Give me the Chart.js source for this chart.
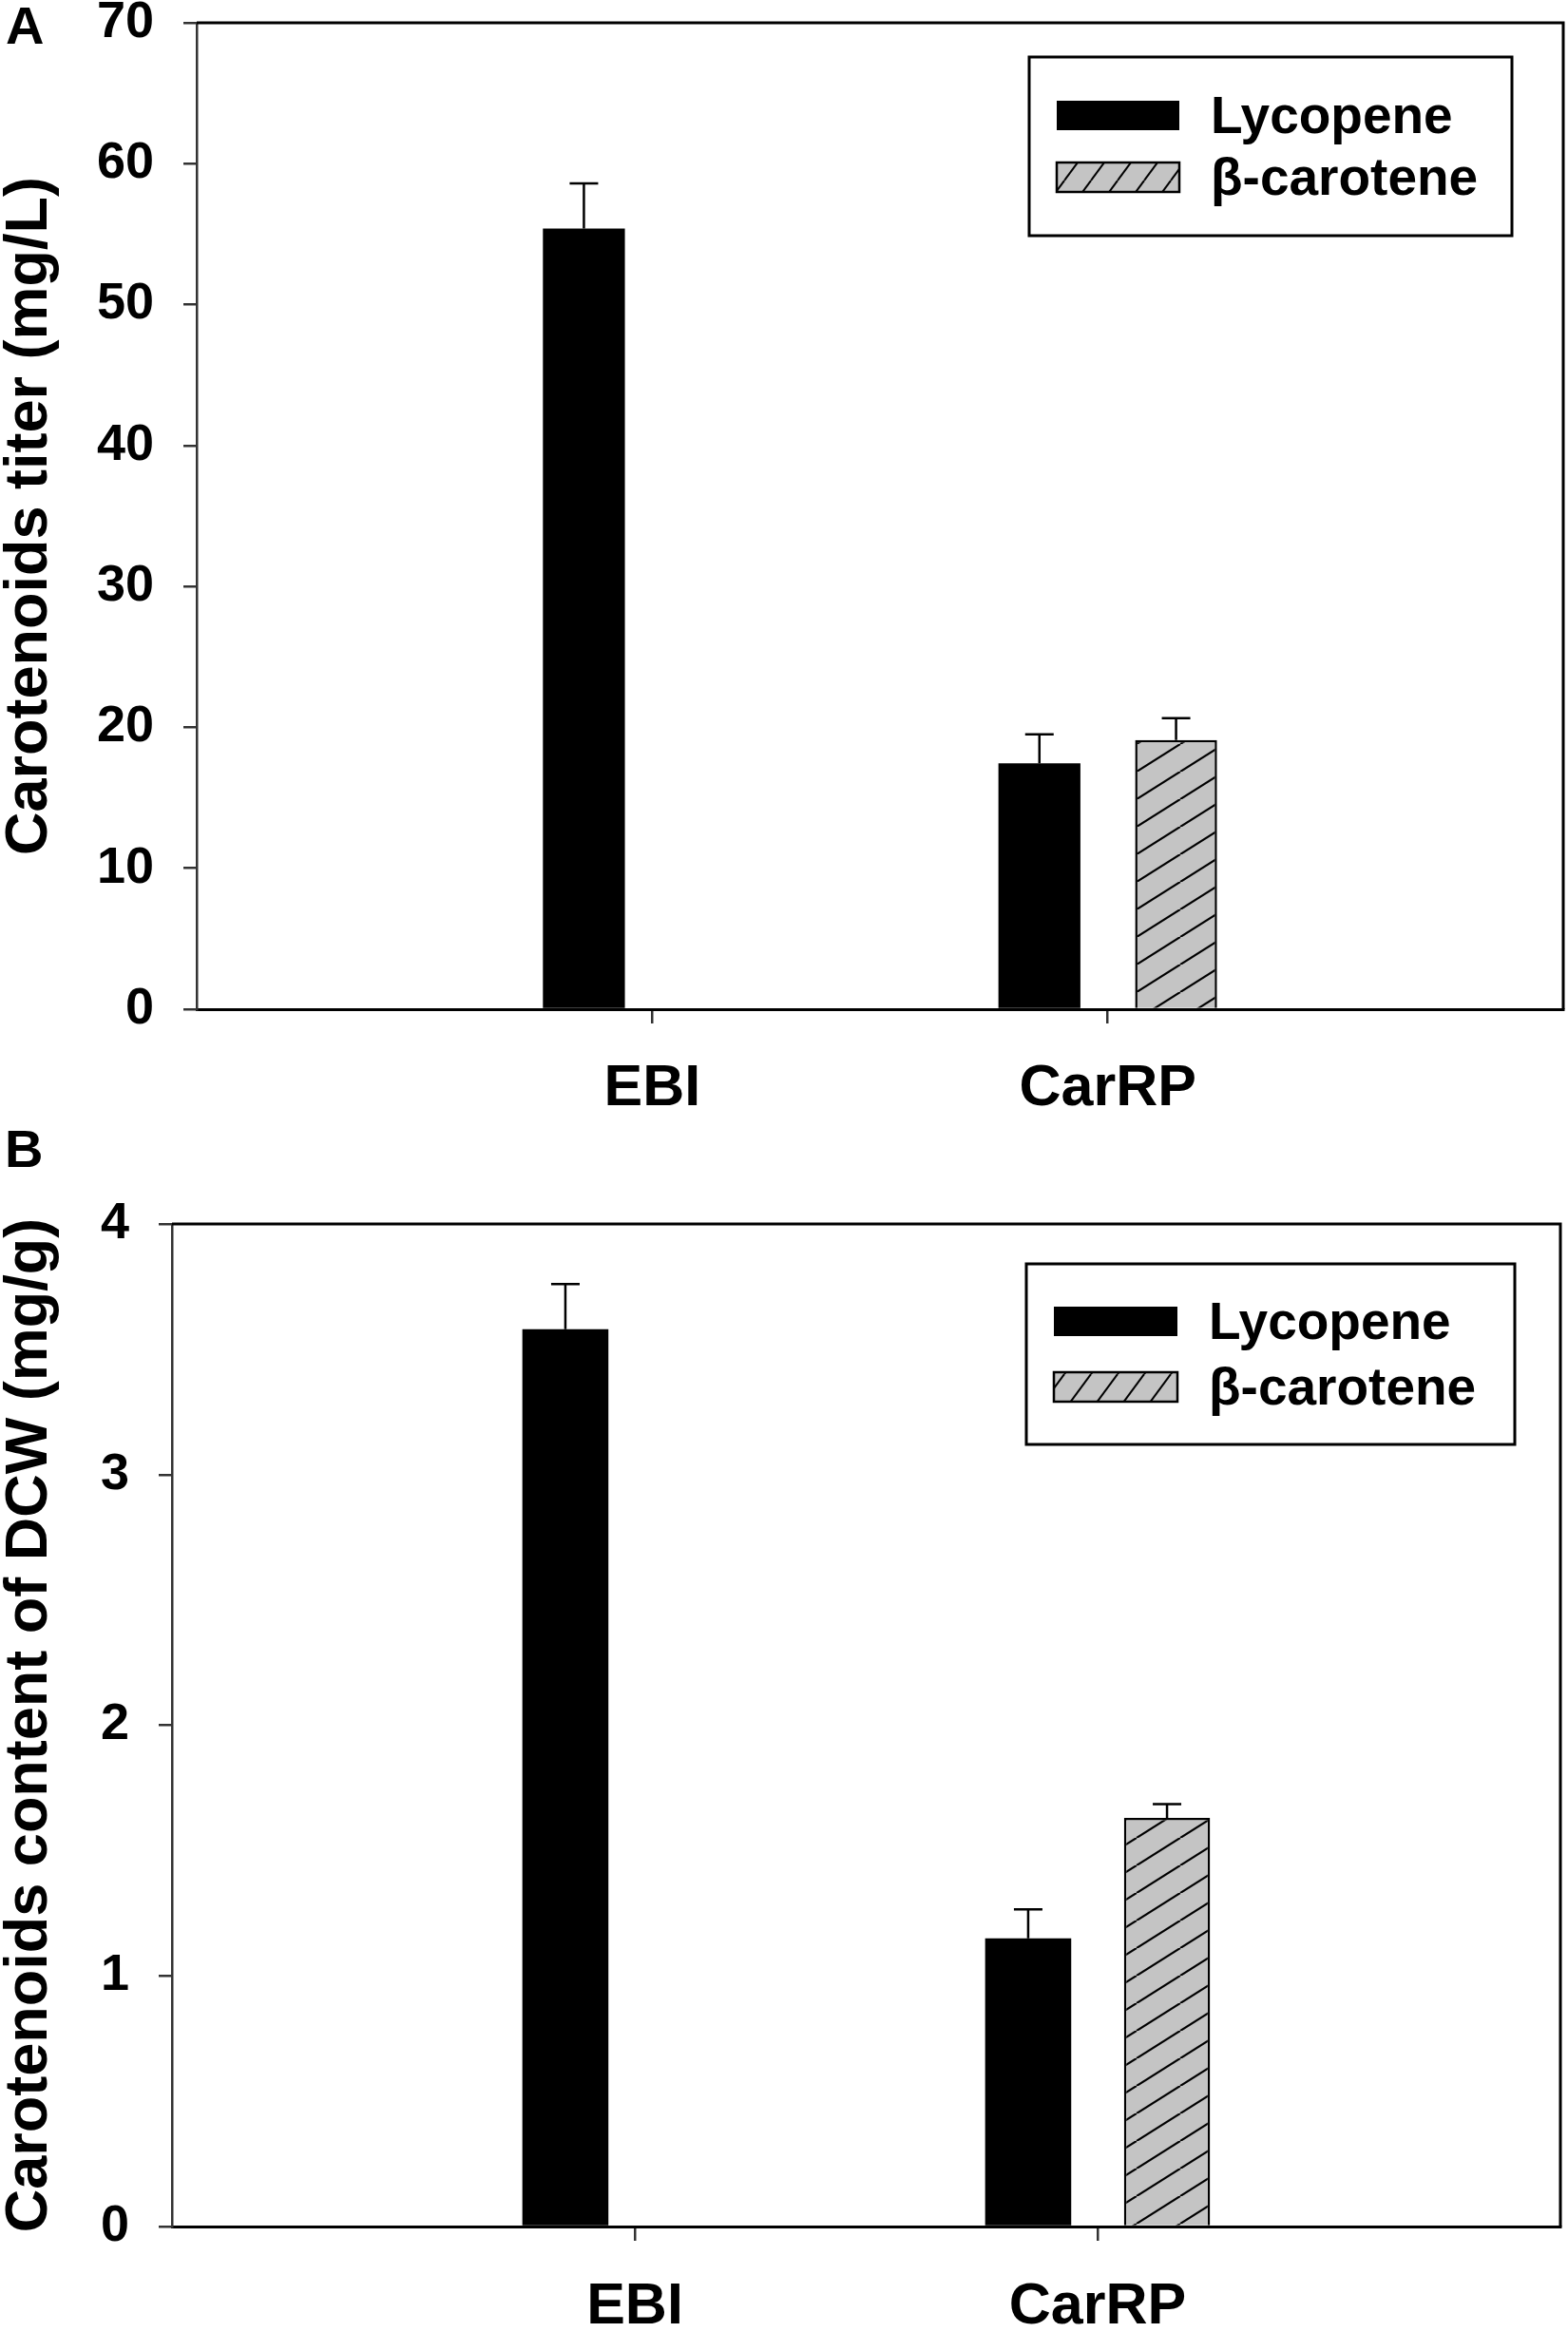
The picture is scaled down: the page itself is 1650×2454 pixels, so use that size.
<!DOCTYPE html>
<html>
<head>
<meta charset="utf-8">
<script src="https://cdn.jsdelivr.net/npm/chart.js@4.4.1/dist/chart.umd.min.js"></script>
<style>
  html, body { margin: 0; padding: 0; background: #fff; }
  body { width: 1650px; height: 2454px; position: relative; overflow: hidden; }
  canvas { position: absolute; left: 0; }
  #chartA { top: 0; }
  #chartB { top: 1180px; }
</style>
</head>
<body>
<canvas id="chartA" width="1650" height="1180"></canvas>
<canvas id="chartB" width="1650" height="1274"></canvas>

<script>
// DATA
const strains = ["", "EBI", "CarRP", ""];

const titerLycopene = [null, 55.4, 17.45, null];
const titerLycopeneSD = [null, 3.2, 2.05, null];
const titerCarotene = [null, null, 19.1, null];
const titerCaroteneSD = [null, null, 1.55, null];
const titerTicks = [0, 10, 20, 30, 40, 50, 60, 70];

const contentLycopene = [null, 3.58, 1.15, null];
const contentLycopeneSD = [null, 0.18, 0.115, null];
const contentCarotene = [null, null, 1.63, null];
const contentCaroteneSD = [null, null, 0.055, null];
const contentTicks = [0, 1, 2, 3, 4];

const FONT = "'Liberation Sans', Arial, sans-serif";
Chart.defaults.font.family = FONT;
Chart.defaults.font.weight = "bold";
Chart.defaults.color = "#000";

// HATCH FILL
function hatch(w, h, lw) {
  const c = document.createElement("canvas");
  c.width = w;
  c.height = h;
  const g = c.getContext("2d");
  g.fillStyle = "#c4c4c4";
  g.fillRect(0, 0, w, h);
  g.strokeStyle = "#000";
  g.lineWidth = lw;
  for (let k = -1; k <= 1; k++) {
    g.beginPath();
    g.moveTo(k * w, h);
    g.lineTo((k + 1) * w, 0);
    g.stroke();
  }
  return g.createPattern(c, "repeat");
}

// ERROR BARS (upper whisker only)
const errorBars = {
  id: "errorBars",
  afterDatasetsDraw(chart, args, o) {
    const ctx = chart.ctx;
    const y = chart.scales.y;
    ctx.save();
    ctx.strokeStyle = "#000";
    ctx.lineWidth = 2.5;
    chart.data.datasets.forEach((ds, i) => {
      chart.getDatasetMeta(i).data.forEach((bar, j) => {
        const v = ds.data[j], e = ds.sd[j];
        if (v == null || e == null) return;
        const top = y.getPixelForValue(v + e);
        ctx.beginPath();
        ctx.moveTo(bar.x, y.getPixelForValue(v));
        ctx.lineTo(bar.x, top);
        ctx.moveTo(bar.x - o.cap / 2, top);
        ctx.lineTo(bar.x + o.cap / 2, top);
        ctx.stroke();
      });
    });
    ctx.restore();
  }
};

// TOP + RIGHT FRAME
const frame = {
  id: "frame",
  afterDatasetsDraw(chart) {
    const { left, top, right, bottom } = chart.chartArea;
    const ctx = chart.ctx;
    ctx.save();
    ctx.strokeStyle = "#000";
    ctx.lineWidth = 3;
    ctx.beginPath();
    ctx.moveTo(left, top);
    ctx.lineTo(right, top);
    ctx.lineTo(right, bottom);
    ctx.stroke();
    ctx.restore();
  }
};

// LEGEND IN A BOX + PANEL LETTER
const boxLegend = {
  id: "boxLegend",
  afterDraw(chart, args, o) {
    const ctx = chart.ctx;
    ctx.save();
    ctx.fillStyle = "#000";
    ctx.textBaseline = "alphabetic";
    ctx.font = "bold 56px " + FONT;
    ctx.fillText(o.letter, o.lx, o.ly);

    ctx.strokeStyle = "#000";
    ctx.lineWidth = 3;
    ctx.strokeRect(o.x, o.y, o.w, o.h);
    ctx.font = "bold 55px " + FONT;
    chart.data.datasets.forEach((ds, i) => {
      const top = o.rows[i];
      ctx.fillStyle = ds.legendFill || ds.backgroundColor;
      ctx.fillRect(o.sx, top, o.sw, o.sh);
      if (ds.borderWidth) {
        ctx.lineWidth = 2.5;
        ctx.strokeRect(o.sx, top, o.sw, o.sh);
      }
      ctx.fillStyle = "#000";
      ctx.fillText(ds.label, o.tx, top + o.sh / 2 + 18);
    });
    ctx.restore();
  }
};

// PANEL
function drawPanel(id, p) {
  return new Chart(document.getElementById(id), {
    type: "bar",
    data: {
      labels: strains,
      datasets: [
        { label: "Lycopene", data: p.lyc, sd: p.lycSD,
          backgroundColor: "#000", borderWidth: 0,
          categoryPercentage: 0.6, barPercentage: p.barPct },
        { label: "β-carotene", data: p.car, sd: p.carSD,
          backgroundColor: hatch(46, 29, 2.2), legendFill: hatch(28, 38, 2),
          borderColor: "#000", borderWidth: 2.5,
          categoryPercentage: 0.6, barPercentage: p.barPct }
      ]
    },
    options: {
      responsive: false,
      animation: false,
      devicePixelRatio: 1,
      layout: { padding: { left: 0, top: p.padTop, right: p.padRight, bottom: 0 } },
      plugins: {
        legend: { display: false },
        tooltip: { enabled: false },
        errorBars: { cap: 30 },
        boxLegend: p.legend
      },
      scales: {
        x: {
          offset: false,
          grid: {
            offset: false,
            drawOnChartArea: false,
            tickLength: 15,
            lineWidth: 2.5,
            color: c => (c.index === 1 || c.index === 2) ? "#333" : "rgba(0,0,0,0)"
          },
          border: { display: true, color: "#000", width: 3 },
          ticks: { font: { size: 61, weight: "bold" }, padding: p.xPad, autoSkip: false, maxRotation: 0 },
          afterFit: s => {
            s.height = p.xHeight;
            s.paddingLeft = 0;
            s.paddingRight = 0;
          }
        },
        y: {
          min: 0,
          max: p.ticks[p.ticks.length - 1],
          afterBuildTicks: a => { a.ticks = p.ticks.map(v => ({ value: v })); },
          grid: { drawOnChartArea: false, tickLength: 14, lineWidth: 2.5, color: "#333" },
          border: { display: true, color: "#333", width: 2.5 },
          ticks: { font: { size: 54, weight: "bold", lineHeight: 0.9 }, padding: 31 },
          title: {
            display: true,
            text: p.title,
            font: { size: 63, weight: "bold", lineHeight: 1 },
            padding: 0
          },
          afterFit: s => {
            s.width = p.yWidth;
            s.paddingTop = 0;
            s.paddingBottom = 0;
          }
        }
      }
    },
    plugins: [frame, errorBars, boxLegend]
  });
}

drawPanel("chartA", {
  lyc: titerLycopene, lycSD: titerLycopeneSD,
  car: titerCarotene, carSD: titerCaroteneSD,
  ticks: titerTicks,
  title: "Carotenoids titer (mg/L)",
  barPct: 0.6, padTop: 24, padRight: 5, xHeight: 118, xPad: 33, yWidth: 207,
  legend: { letter: "A", lx: 6, ly: 46,
            x: 1083, y: 60, w: 508, h: 188, sx: 1112, sw: 129, sh: 31, rows: [106, 171], tx: 1274 }
});

drawPanel("chartB", {
  lyc: contentLycopene, lycSD: contentLycopeneSD,
  car: contentCarotene, carSD: contentCaroteneSD,
  ticks: contentTicks,
  title: "Carotenoids content of DCW (mg/g)",
  barPct: 0.62, padTop: 108, padRight: 8, xHeight: 111, xPad: 34, yWidth: 181,
  legend: { letter: "B", lx: 5, ly: 48,
            x: 1080, y: 150, w: 514, h: 190, sx: 1109, sw: 130, sh: 31, rows: [195, 264], tx: 1272 }
});
</script>
</body>
</html>
